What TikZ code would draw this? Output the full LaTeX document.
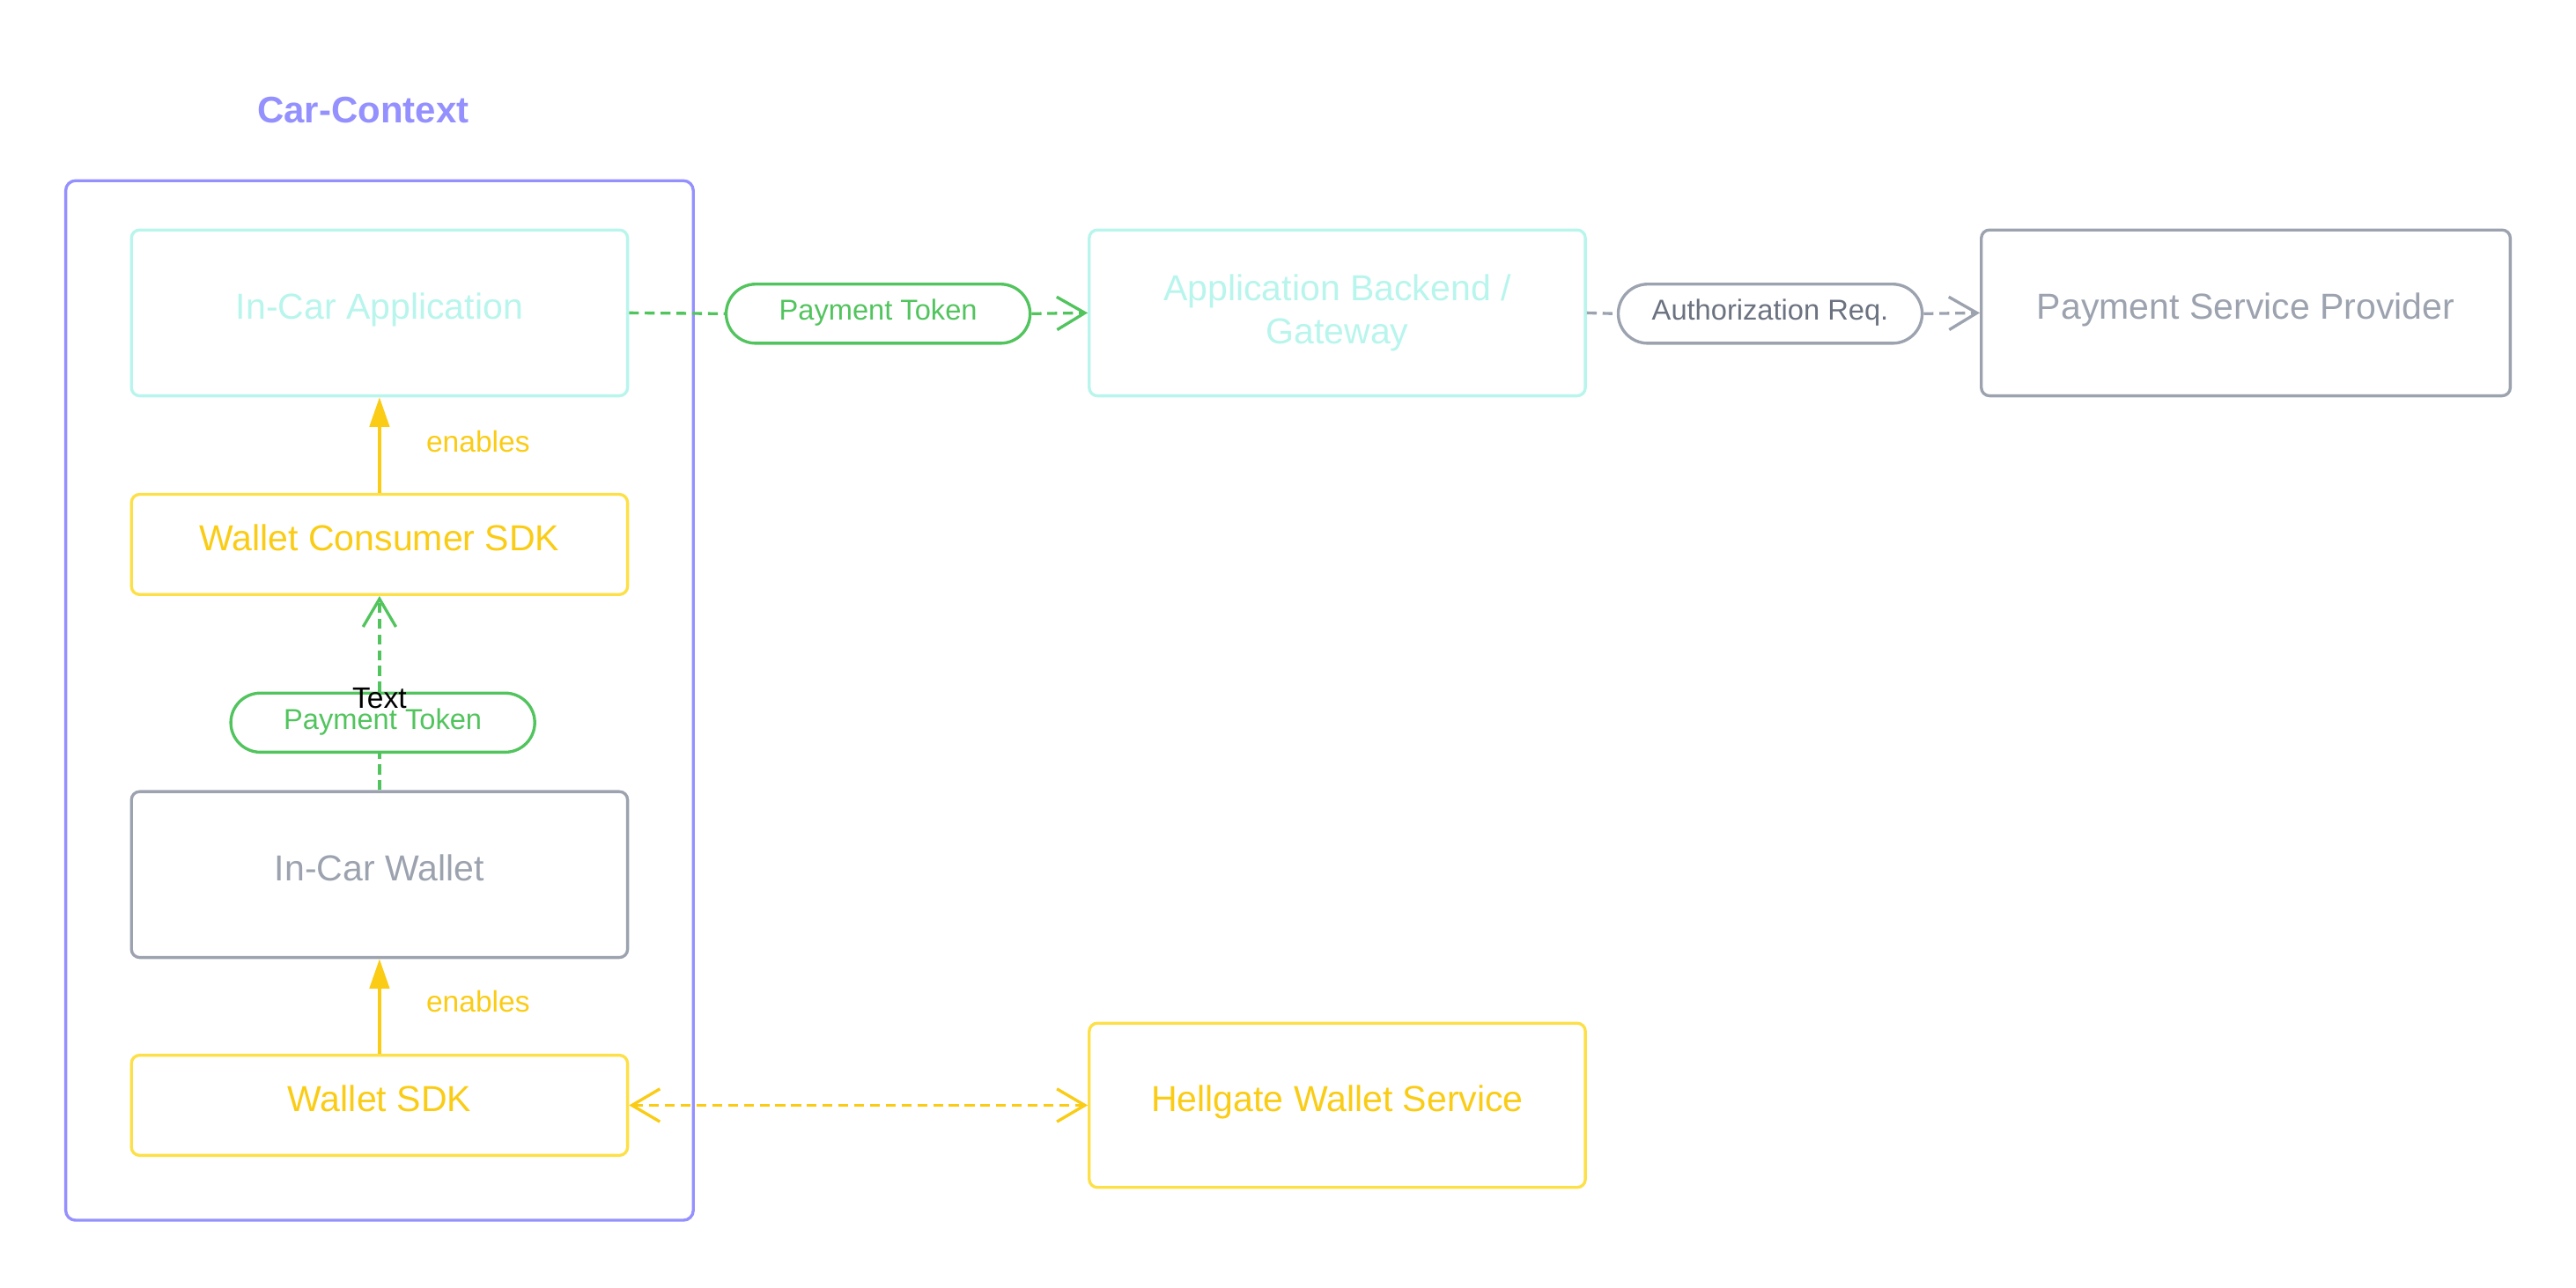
\documentclass[tikz,border=0pt]{standalone}
\usepackage{fontspec}
\setmainfont{Liberation Sans}
\usetikzlibrary{arrows.meta}
\definecolor{lav}{HTML}{9491FF}
\definecolor{cyanp}{HTML}{B8F5EC}
\definecolor{ybord}{HTML}{FDE047}
\definecolor{ytext}{HTML}{FACC15}
\definecolor{grn}{HTML}{52C45E}
\definecolor{gry}{HTML}{9CA3AF}
\definecolor{gryd}{HTML}{6B7280}
\begin{document}
\begin{tikzpicture}[x=0.5pt,y=-0.5pt,
  box/.style={draw, line width=0.9pt, rounded corners=2.5pt, minimum width=151pt, align=center, font=\fontsize{11}{13}\selectfont, inner sep=2pt},
  one/.style={text height=8pt, text depth=4pt},
  tall/.style={minimum height=50.5pt},
  short/.style={minimum height=30.5pt},
  pill/.style={draw, line width=0.9pt, rounded corners=9pt, minimum width=92.5pt, minimum height=18pt, inner sep=1pt, font=\fontsize{8.75}{10}\selectfont, fill=white, text height=6.5pt, text depth=2.6pt},
  lbl/.style={font=\fontsize{9}{10}\selectfont},
  conn/.style={line width=0.9pt},
  dsh/.style={conn, dash pattern=on 3pt off 1.8pt},
  solidhead/.style={-{Triangle[length=9pt,width=6pt]}},
  barb/.style={-{Straight Barb[length=8.5pt,width=10pt,line width=0.9pt]}},
  barbs/.style={{Straight Barb[length=8.5pt,width=10pt,line width=0.9pt]}-{Straight Barb[length=8.5pt,width=10pt,line width=0.9pt]}}
]
\useasboundingbox (0,0) rectangle (1568,784);

% title and container
\node (title) [text=lav, font=\fontsize{11.25}{13}\bfseries] at (221,67) {Car-Context};
\node (ctx) [draw=lav, line width=0.9pt, rounded corners=3pt, minimum width=191pt, minimum height=316.5pt] at (231,426.5) {};

% boxes
\node (app) [box, one, tall, draw=cyanp, text=cyanp] at (231,190.5) {In-Car Application};
\node (wcs) [box, one, short, draw=ybord, text=ytext] at (231,331.5) {Wallet Consumer SDK};
\node (wallet) [box, one, tall, draw=gry, text=gry] at (231,532.5) {In-Car Wallet};
\node (wsdk) [box, one, short, draw=ybord, text=ytext] at (231,673) {Wallet SDK};
\node (backend) [box, tall, draw=cyanp, text=cyanp] at (814,190.5) {Application Backend /\\Gateway};
\node (hellgate) [box, one, minimum height=50pt, draw=ybord, text=ytext] at (814,673) {Hellgate Wallet Service};
\node (psp) [box, one, tall, minimum width=161pt, draw=gry, text=gry] at (1367,190.5) {Payment Service Provider};

% pills
\node (pill1) [pill, draw=grn, text=grn] at (534.5,191) {Payment Token};
\node (pill2) [pill, draw=gry, text=gryd] at (1077.5,191) {Authorization Req.};
\node (pill3) [pill, draw=grn, text=grn] at (233,440) {Payment Token};

% connectors
\draw[conn, ytext, solidhead] (wcs.north) -- (app.south);
\draw[conn, ytext, solidhead] (wsdk.north) -- (wallet.south);
\node (en1) [lbl, text=ytext] at (291,269) {enables};
\node (en2) [lbl, text=ytext] at (291,610) {enables};

\draw[dsh, grn] (wallet.north) -- (wallet.north |- pill3.south);
\draw[dsh, grn, barb] (wcs.south |- pill3.north) -- (wcs.south);
\node (txt) [lbl, text=black] at (231,425) {Text};

\draw[dsh, grn] (app.east) -- (pill1.west);
\draw[dsh, grn, barb] (pill1.east) -- (backend.west);

\draw[dsh, gry] (backend.east) -- (pill2.west);
\draw[dsh, gry, barb] (pill2.east) -- (psp.west);

\draw[dsh, ytext, barbs] (wsdk.east) -- (hellgate.west);
\end{tikzpicture}
\end{document}
